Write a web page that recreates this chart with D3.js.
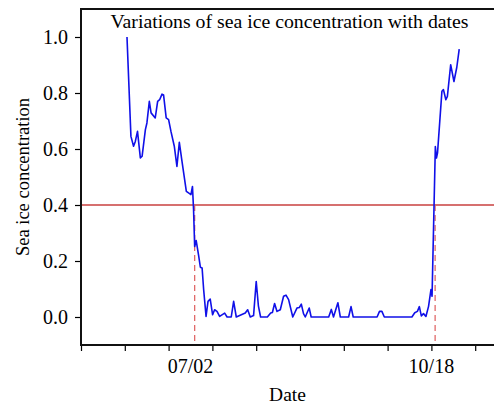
<!DOCTYPE html>
<html>
<head>
<meta charset="utf-8">
<script src="https://cdn.jsdelivr.net/npm/d3@7"></script>
<style>
  body { margin: 0; background: #fff; }
  text { font-family: "Liberation Serif", "Times New Roman", serif; fill: #000; }
</style>
</head>
<body>
<svg width="494" height="406"></svg>
<script>
/*------------------------
  ------ VARIABLES -------
  ------------------------*/

// day of year
var days = [151.0, 152.8, 154.0, 154.8, 155.8, 157.1, 157.9, 159.4, 160.1, 161.2,
            162.0, 163.9, 165.0, 165.9, 167.0, 167.7, 168.9, 170.0, 171.1, 172.6,
            173.8, 174.9, 176.1, 178.1, 179.1, 180.2, 180.9, 181.4, 181.9, 182.6,
            183.7, 184.5, 185.3, 186.0, 187.1, 188.0, 189.0, 190.1, 191.0, 192.1,
            193.3, 195.6, 196.7, 198.6, 199.7, 200.9, 205.0, 206.1, 207.3, 208.8,
            210.0, 211.0, 212.0, 215.1, 216.6, 217.4, 218.4, 219.5, 221.0, 222.5,
            223.6, 224.8, 225.9, 226.7, 228.6, 229.7, 230.6, 231.6, 232.4, 234.2,
            235.1, 243.1, 244.3, 245.3, 247.3, 248.4, 252.2, 253.3, 254.3, 265.2,
            266.3, 267.4, 268.5, 281.1, 282.4, 283.6, 284.5, 285.4, 286.4, 287.5,
            288.7, 289.8, 290.3, 291.8, 292.3, 292.8, 294.8, 295.5, 296.6, 297.3,
            298.8, 300.3, 301.6, 302.7];

// sea ice concentration
var conc = [1.000, 0.645, 0.610, 0.627, 0.663, 0.568, 0.574, 0.669, 0.693, 0.770,
            0.729, 0.711, 0.770, 0.776, 0.796, 0.793, 0.711, 0.705, 0.662, 0.610,
            0.538, 0.624, 0.557, 0.449, 0.443, 0.437, 0.466, 0.383, 0.252, 0.273,
            0.220, 0.178, 0.175, 0.098, 0.002, 0.056, 0.064, 0.008, 0.026, 0.020,
            0.002, 0.014, 0.000, 0.000, 0.056, 0.000, 0.014, 0.026, 0.000, 0.005,
            0.127, 0.040, 0.000, 0.000, 0.014, 0.016, 0.048, 0.020, 0.026, 0.074,
            0.078, 0.062, 0.026, 0.000, 0.032, 0.034, 0.046, 0.012, 0.000, 0.032,
            0.000, 0.000, 0.027, 0.000, 0.051, 0.000, 0.000, 0.037, 0.000, 0.000,
            0.020, 0.020, 0.000, 0.000, 0.015, 0.020, 0.037, 0.004, 0.012, 0.002,
            0.038, 0.098, 0.074, 0.609, 0.568, 0.586, 0.806, 0.812, 0.776, 0.788,
            0.901, 0.841, 0.892, 0.957];

var threshold = 0.4;
var cross_days = [181.9, 291.7];

var x_labels = [{day: 180, text: "07/02"},
                {day: 290, text: "10/18"}];
var y_ticks = [0.0, 0.2, 0.4, 0.6, 0.8, 1.0];

var title = "Variations of sea ice concentration with dates";
var x_title = "Date";
var y_title = "Sea ice concentration";

// display settings
var frame = {left: 81, top: 9, right: 494, bottom: 345};
var px_per_day = 2.19;

var svg = d3.select("svg");

var x = d3.scaleLinear()
    .domain([130, 320])
    .range([frame.left, frame.left + 190 * px_per_day]);
var y = d3.scaleLinear()
    .domain([-0.1, 1.1])
    .range([frame.bottom, frame.top]);

/*------------------------
  -------- AXES ----------
  ------------------------*/

function display_axes() {
    var gx = svg.append("g")
        .attr("transform", "translate(0," + frame.bottom + ")");
    // minor ticks every 10 days, major every 20
    gx.call(d3.axisBottom(x).tickValues(d3.range(140, 320, 20))
            .tickSize(3).tickFormat(""));
    gx.call(d3.axisBottom(x).tickValues(d3.range(130, 320, 20))
            .tickSize(6).tickFormat(""));
    gx.selectAll(".domain").remove();

    var gy = svg.append("g")
        .attr("transform", "translate(" + frame.left + ",0)");
    gy.call(d3.axisLeft(y).tickValues(d3.range(-0.1, 1.15, 0.2))
            .tickSize(3).tickFormat(""));
    gy.call(d3.axisLeft(y).tickValues(y_ticks)
            .tickSize(6).tickPadding(7).tickFormat(d3.format(".1f")));
    gy.selectAll(".domain").remove();
    gy.selectAll("text").attr("font-size", 20)
        .style("font-family", "Liberation Serif");

    svg.selectAll(".tick line").attr("stroke", "#000").attr("stroke-width", 1.2);

    // frame lines
    svg.append("path")
        .attr("d", "M" + frame.right + "," + frame.top + "H" + frame.left +
                   "V" + frame.bottom + "H" + frame.right)
        .attr("fill", "none")
        .attr("stroke", "#111")
        .attr("stroke-width", 2);

    svg.selectAll(".xlab")
        .data(x_labels)
        .enter()
        .append("text")
        .attr("class", "xlab")
        .attr("x", function(d) { return x(d.day); })
        .attr("y", 373)
        .attr("text-anchor", "middle")
        .attr("font-size", 20)
        .text(function(d) { return d.text; });

    svg.append("text")
        .attr("x", (frame.left + frame.right) / 2)
        .attr("y", 401)
        .attr("text-anchor", "middle")
        .attr("font-size", 19.5)
        .text(x_title);

    svg.append("text")
        .attr("transform", "translate(29," + ((frame.top + frame.bottom) / 2) + ") rotate(-90)")
        .attr("text-anchor", "middle")
        .attr("font-size", 18.5)
        .text(y_title);

    svg.append("text")
        .attr("x", 289.5)
        .attr("y", 28)
        .attr("text-anchor", "middle")
        .attr("font-size", 19.8)
        .text(title);
}

/*------------------------
  -------- LINES ---------
  ------------------------*/

function display_lines() {
    svg.append("line")
        .attr("x1", frame.left)
        .attr("x2", frame.right)
        .attr("y1", y(threshold))
        .attr("y2", y(threshold))
        .attr("stroke", "#c8403f")
        .attr("stroke-width", 1.6);

    svg.selectAll(".cross")
        .data(cross_days)
        .enter()
        .append("line")
        .attr("class", "cross")
        .attr("x1", function(d) { return x(d); })
        .attr("x2", function(d) { return x(d); })
        .attr("y1", y(threshold))
        .attr("y2", frame.bottom)
        .attr("stroke", "#e06a6a")
        .attr("stroke-width", 1.3)
        .attr("stroke-dasharray", "6,4");

    var pts = days.map(function(d, i) { return [d, conc[i]]; });
    var line = d3.line()
        .x(function(d) { return x(d[0]); })
        .y(function(d) { return y(d[1]); });

    svg.append("path")
        .datum(pts)
        .attr("d", line)
        .attr("fill", "none")
        .attr("stroke", "#1010e8")
        .attr("stroke-width", 1.6)
        .attr("stroke-linejoin", "round");
}

/*------------------
  ------ RUN -------
  ------------------*/

display_lines();
display_axes();
</script>
</body>
</html>
